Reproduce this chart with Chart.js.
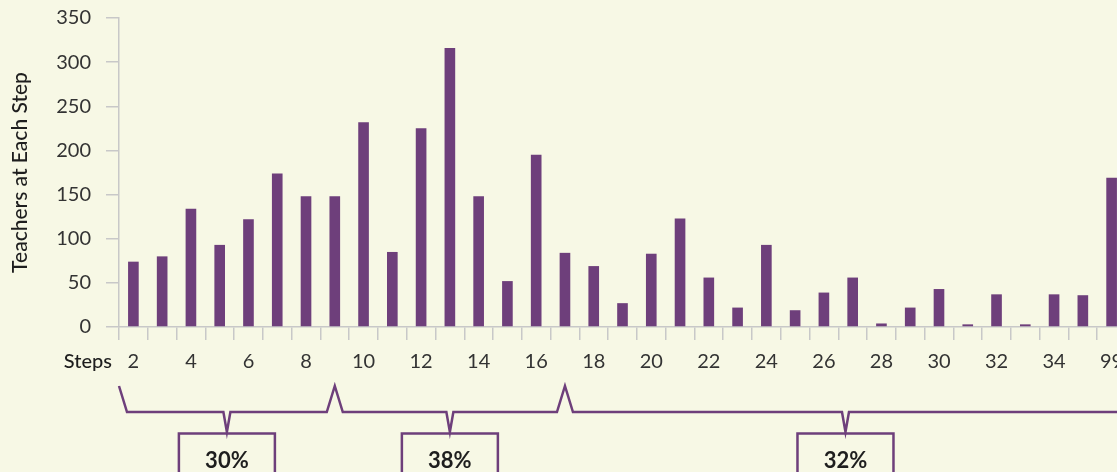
<!DOCTYPE html>
<html>
<head>
<meta charset="utf-8">
<script src="https://cdn.jsdelivr.net/npm/chart.js@4.4.1/dist/chart.umd.min.js"></script>
<style>
  html, body { margin: 0; padding: 0; overflow: hidden; background: #f7f8e5; }
  #wrap { width: 1126px; height: 472px; }
</style>
</head>
<body>
<div id="wrap"><canvas id="stepsChart" width="1126" height="472"></canvas></div>
<script>
// steps on the salary schedule, 99 = off-schedule
const steps = ['2', '3', '4', '5', '6', '7', '8', '9', '10', '11', '12', '13', '14', '15', '16', '17', '18',
  '19', '20', '21', '22', '23', '24', '25', '26', '27', '28', '29', '30', '31', '32', '33', '34', '35', '99'];
const teachers = [74, 80, 134, 93, 122, 174, 148, 148, 232, 85, 225, 316, 148, 52, 195, 84, 69,
  27, 83, 123, 56, 22, 93, 19, 39, 56, 4, 22, 43, 3, 37, 3, 37, 36, 169];
const yTicks = [0, 50, 100, 150, 200, 250, 300, 350];

// bracket groups: split at these steps, share of teachers in each group
const groupSplits = ['9', '17'];
const groupShares = ['30%', '38%', '32%'];

const purple = '#6e3f7b';
const axisGray = '#c8c8c8';
const FONT = 'Lato, "Open Sans", sans-serif';

// draws the "Steps" label and the brackets with share boxes under the x axis
const bracketPlugin = {
  id: 'brackets',
  afterDraw(chart) {
    const ctx = chart.ctx;
    const x = chart.scales.x;
    const half = (x.getPixelForValue(1) - x.getPixelForValue(0)) / 2;

    ctx.save();
    ctx.fillStyle = '#1e1e1e';
    ctx.font = '500 20px ' + FONT;
    ctx.textAlign = 'right';
    ctx.textBaseline = 'middle';
    ctx.fillText('Steps', 112, 362);

    const ends = [x.getPixelForValue(0) - half];
    groupSplits.forEach(s => ends.push(x.getPixelForValue(steps.indexOf(s))));
    ends.push(x.getPixelForValue(steps.length - 1) + half);

    const yTop = 386, yLine = 412, yTip = 432, slant = 8, notch = 3.5;
    ctx.strokeStyle = purple;
    ctx.lineWidth = 2.5;
    ctx.beginPath();
    ctx.moveTo(ends[0], yTop);
    for (let i = 0; i < ends.length - 1; i++) {
      const a = ends[i], b = ends[i + 1], mid = (a + b) / 2;
      ctx.lineTo(a + slant, yLine);
      ctx.lineTo(mid - notch, yLine);
      ctx.lineTo(mid, yTip);
      ctx.lineTo(mid + notch, yLine);
      ctx.lineTo(b - slant, yLine);
      ctx.lineTo(b, yTop);
    }
    ctx.stroke();

    ctx.font = 'bold 22px ' + FONT;
    ctx.textAlign = 'center';
    for (let i = 0; i < ends.length - 1; i++) {
      const mid = (ends[i] + ends[i + 1]) / 2;
      ctx.strokeRect(mid - 48, yTip + 1.5, 96, 60);
      ctx.fillText(groupShares[i], mid, 461);
    }
    ctx.restore();
  }
};

new Chart(document.getElementById('stepsChart'), {
  type: 'bar',
  data: {
    labels: steps,
    datasets: [{
      label: 'Teachers at Each Step',
      data: teachers,
      backgroundColor: purple,
      borderWidth: 0,
      barPercentage: 0.37,
      categoryPercentage: 1
    }]
  },
  options: {
    responsive: false,
    animation: false,
    layout: { padding: { top: 18, right: 0, left: 0, bottom: 0 } },
    plugins: { legend: { display: false }, tooltip: { enabled: false } },
    scales: {
      x: {
        offset: true,
        grid: { offset: true, drawOnChartArea: false, tickLength: 13, color: axisGray, lineWidth: 1.5 },
        border: { color: axisGray, width: 1.5 },
        ticks: {
          autoSkip: false,
          maxRotation: 0,
          padding: 10,
          color: '#333',
          font: { family: FONT, size: 20 },
          callback: (v, i) => (i % 2 === 0 ? steps[i] : '')
        },
        afterFit: s => { s.height = 145; s.paddingLeft = 0; s.paddingRight = 0; }
      },
      y: {
        min: 0,
        max: 350,
        afterBuildTicks: s => { s.ticks = yTicks.map(v => ({ value: v })); },
        grid: { drawOnChartArea: false, tickLength: 13, color: axisGray, lineWidth: 1.5 },
        border: { color: axisGray, width: 1.5 },
        ticks: { padding: 15, color: '#333', font: { family: FONT, size: 20 } },
        title: {
          display: true,
          text: 'Teachers at Each Step',
          color: '#1e1e1e',
          font: { family: FONT, size: 21, weight: '500' },
          padding: { top: 8, bottom: 0 }
        },
        afterFit: s => { s.width = 119; s.paddingTop = 0; s.paddingBottom = 0; }
      }
    }
  },
  plugins: [bracketPlugin]
});
</script>
</body>
</html>
